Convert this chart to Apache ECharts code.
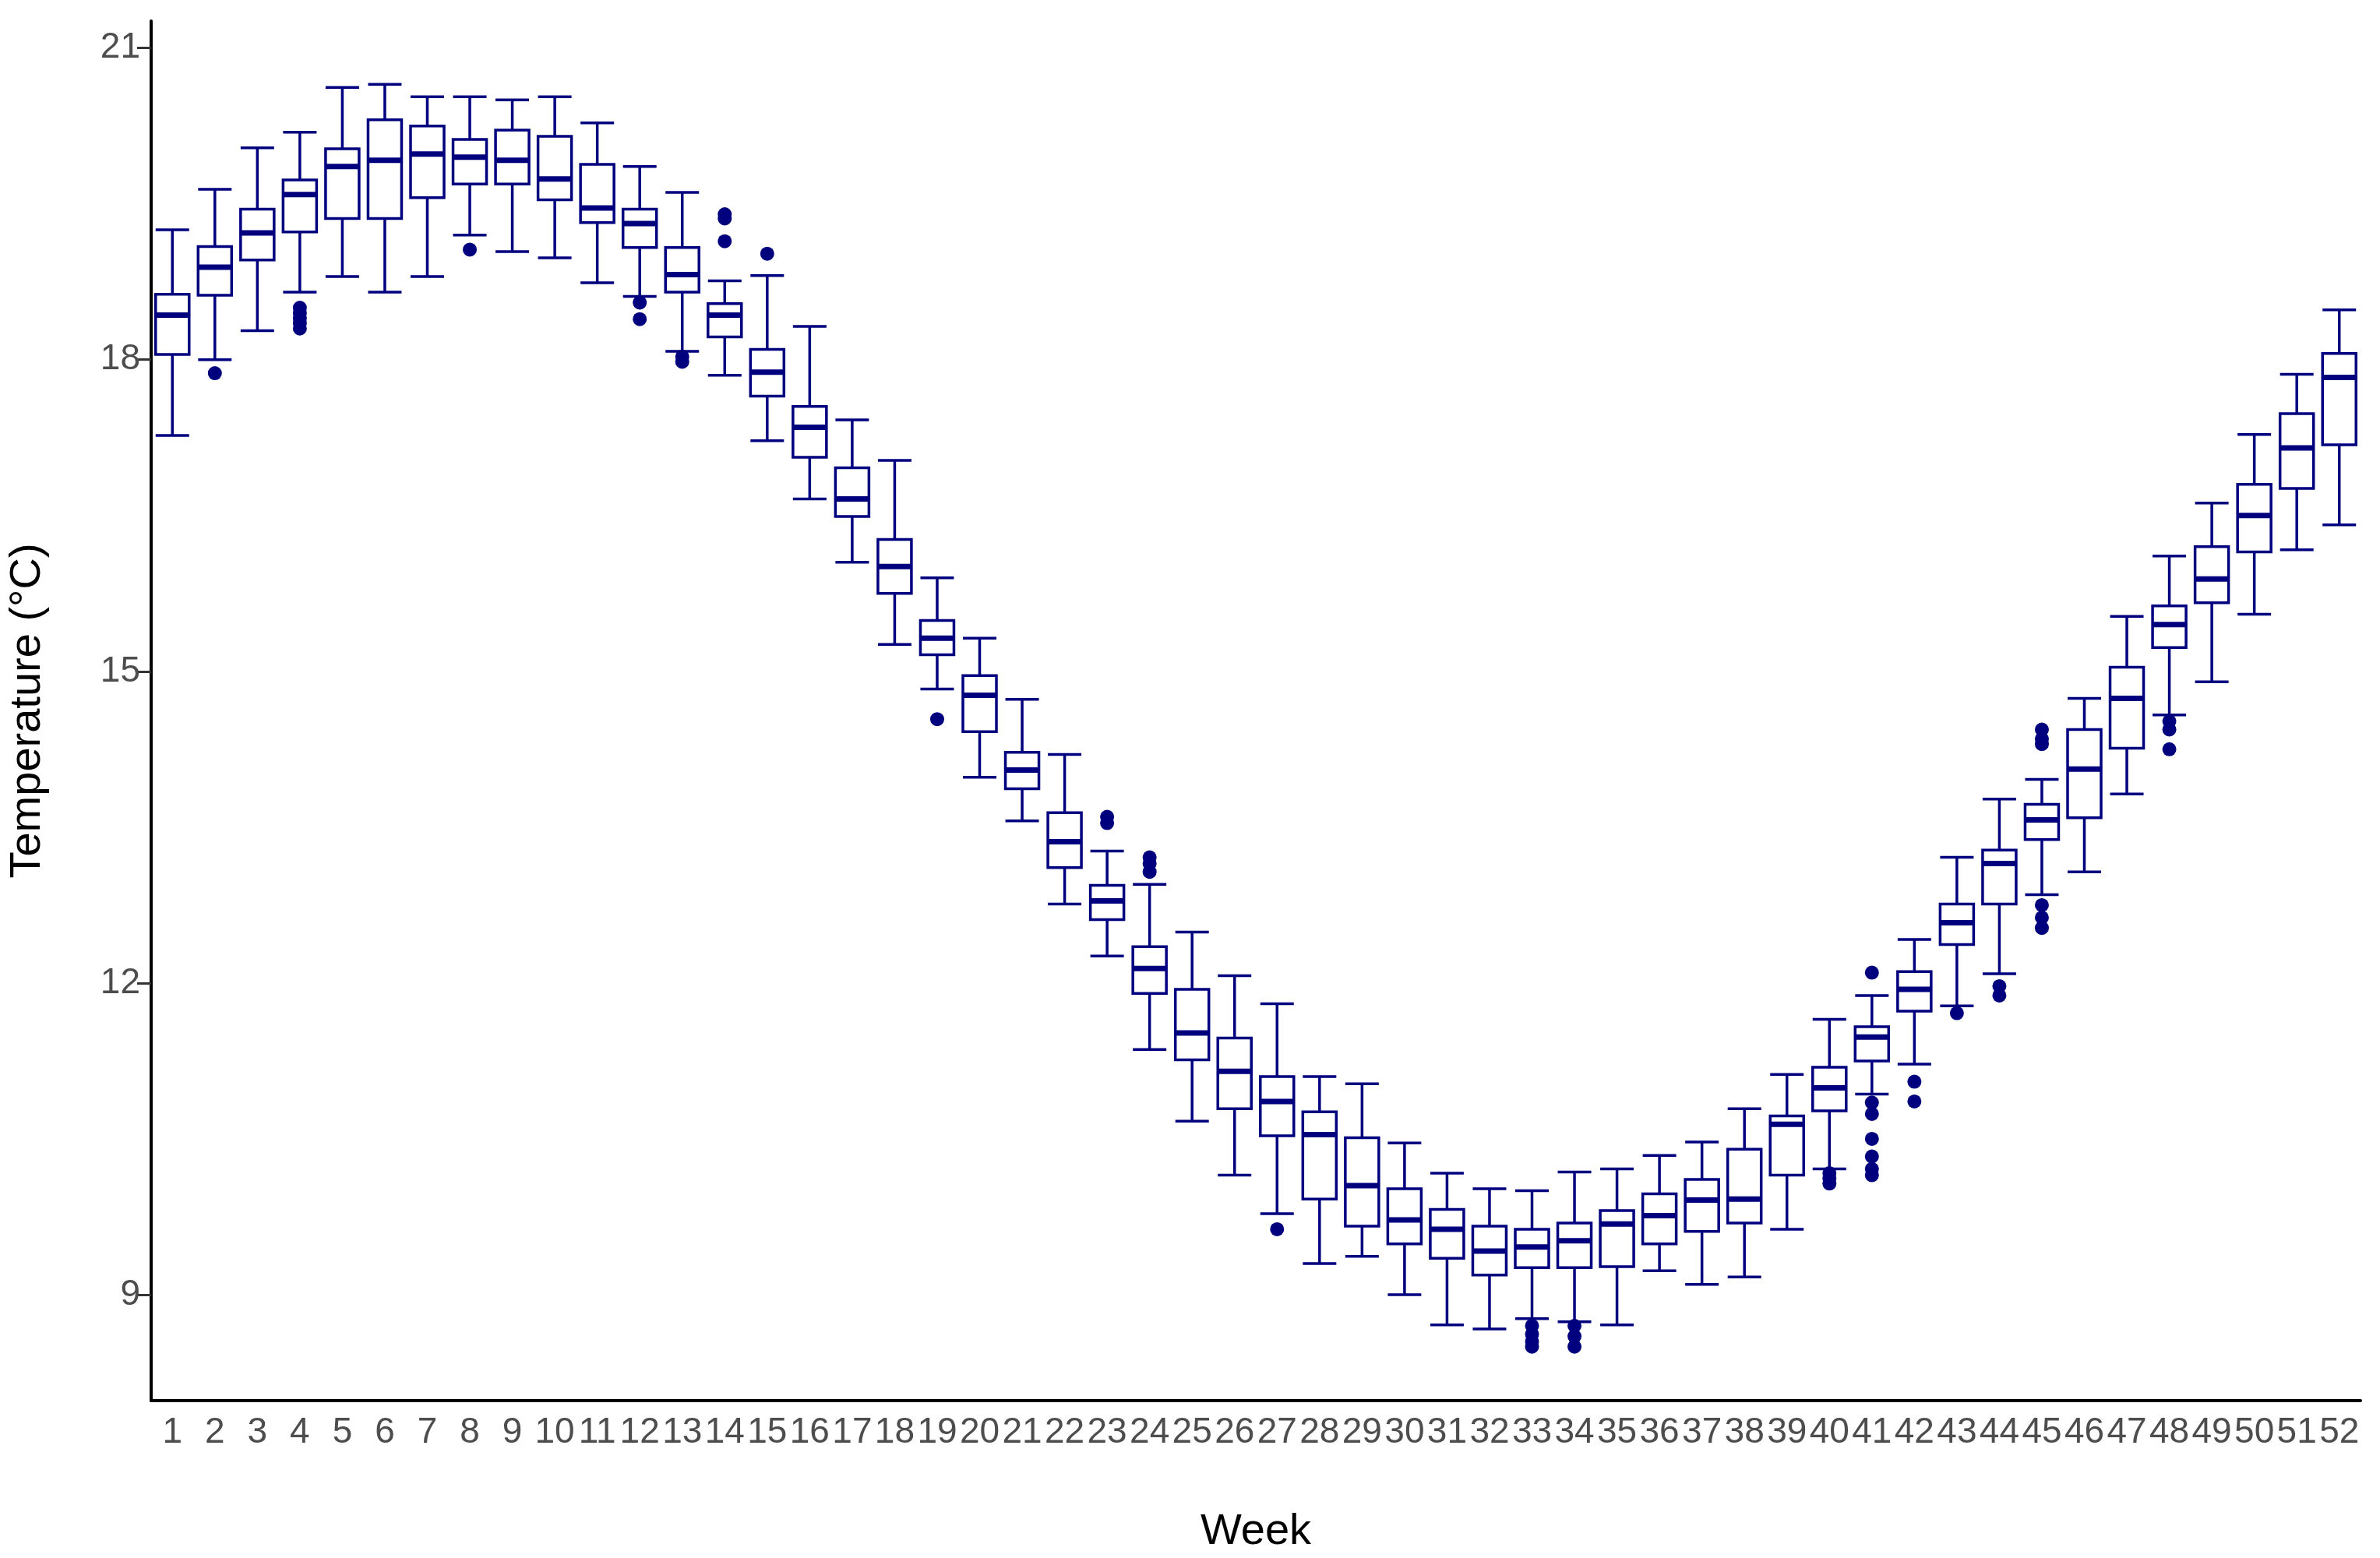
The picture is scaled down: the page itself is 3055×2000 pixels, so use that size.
<!DOCTYPE html>
<html><head><meta charset="utf-8">
<script src="https://cdn.jsdelivr.net/npm/echarts@6/dist/echarts.min.js"></script>
<style>html,body{margin:0;padding:0;background:#fff}#c{width:3055px;height:2000px}</style>
</head><body><div id="c"></div>
<script>
const weeks = Array.from({length:52},(_,i)=>String(i+1));
const yTicks = [9,12,15,18,21];
// [low whisker, Q1, median, Q3, high whisker]
const boxes = [
[17.27,18.05,18.43,18.63,19.25],[18.0,18.62,18.89,19.09,19.64],[18.28,18.96,19.22,19.45,20.04],[18.65,19.23,19.59,19.73,20.19],
[18.8,19.36,19.86,20.03,20.62],[18.65,19.36,19.92,20.31,20.65],[18.8,19.56,19.98,20.25,20.53],[19.2,19.69,19.95,20.12,20.53],
[19.04,19.69,19.92,20.21,20.5],[18.98,19.54,19.74,20.15,20.53],[18.74,19.32,19.46,19.88,20.28],[18.61,19.08,19.31,19.45,19.86],
[18.08,18.65,18.82,19.08,19.61],[17.85,18.22,18.43,18.54,18.76],[17.22,17.65,17.88,18.1,18.81],[16.66,17.06,17.35,17.55,18.32],
[16.05,16.49,16.66,16.96,17.42],[15.26,15.75,16.01,16.27,17.03],[14.83,15.16,15.32,15.49,15.9],[13.98,14.42,14.77,14.96,15.32],
[13.56,13.87,14.05,14.22,14.73],[12.76,13.11,13.36,13.64,14.2],[12.26,12.61,12.79,12.94,13.27],[11.36,11.9,12.14,12.35,12.95],
[10.67,11.26,11.52,11.94,12.49],[10.15,10.79,11.15,11.47,12.07],[9.78,10.53,10.86,11.1,11.8],[9.3,9.92,10.54,10.76,11.1],
[9.37,9.66,10.05,10.51,11.03],[9.0,9.49,9.72,10.02,10.46],[8.71,9.35,9.63,9.82,10.17],[8.67,9.19,9.42,9.66,10.02],
[8.77,9.26,9.46,9.63,10.0],[8.74,9.26,9.52,9.69,10.18],[8.71,9.27,9.68,9.81,10.21],[9.23,9.49,9.76,9.97,10.34],
[9.1,9.61,9.91,10.11,10.47],[9.17,9.69,9.92,10.4,10.79],[9.63,10.15,10.64,10.72,11.12],[10.21,10.77,10.99,11.19,11.65],
[10.93,11.25,11.48,11.58,11.88],[11.22,11.73,11.94,12.11,12.42],[11.78,12.37,12.58,12.76,13.21],[12.09,12.76,13.15,13.28,13.77],
[12.85,13.38,13.57,13.72,13.96],[13.07,13.59,14.06,14.44,14.74],[13.82,14.26,14.74,15.04,15.53],[14.58,15.23,15.45,15.63,16.11],
[14.9,15.66,15.89,16.2,16.62],[15.55,16.15,16.5,16.8,17.28],[16.17,16.76,17.15,17.48,17.86],[16.41,17.18,17.83,18.06,18.48]
];
// outliers: [week index, value]
const outliers = [
[1,17.87],[3,18.5],[3,18.45],[3,18.4],[3,18.35],[3,18.3],[7,19.06],[11,18.55],[11,18.39],[12,17.98],[12,18.03],
[13,19.4],[13,19.36],[13,19.14],[14,19.02],[18,14.54],[22,13.6],[22,13.54],[23,13.21],[23,13.15],[23,13.07],[26,9.63],
[32,8.7],[32,8.62],[32,8.55],[32,8.5],[33,8.7],[33,8.6],[33,8.5],[39,10.17],[39,10.07],[39,10.12],
[40,12.1],[40,10.85],[40,10.74],[40,10.5],[40,10.33],[40,10.21],[40,10.15],[41,11.05],[41,10.86],[42,11.71],
[43,11.97],[43,11.88],[44,14.44],[44,14.35],[44,14.3],[44,12.75],[44,12.63],[44,12.53],[47,14.52],[47,14.44],[47,14.25]
];
const C = '#00007f';
const chart = echarts.init(document.getElementById('c'));
chart.setOption({
  animation:false,
  grid:{left:185,right:25,top:27,bottom:183},
  xAxis:{type:'category',data:weeks,name:'Week',nameLocation:'middle',nameGap:141,
    nameTextStyle:{fontSize:56,color:'#000',fontFamily:'Liberation Sans'},
    axisLine:{lineStyle:{color:'#000',width:4}},
    axisTick:{alignWithLabel:true,length:14,lineStyle:{color:'#333',width:3}},
    axisLabel:{interval:0,fontSize:46,color:'#4d4d4d',margin:18,fontFamily:'Liberation Sans Narrow, Liberation Sans'},
    splitLine:{show:false}},
  yAxis:{type:'value',min:7.98,max:21.26,
    name:'Temperature (°C)',nameLocation:'middle',nameGap:130,
    nameTextStyle:{fontSize:56,color:'#000',fontFamily:'Liberation Sans'},
    axisLine:{show:true,lineStyle:{color:'#000',width:4}},
    axisTick:{show:true,length:18,lineStyle:{color:'#333',width:3},customValues:yTicks},
    axisLabel:{fontSize:46,color:'#4d4d4d',margin:14,fontFamily:'Liberation Sans',customValues:yTicks},
    splitLine:{show:false}},
  series:[
    {type:'boxplot',data:boxes,boxWidth:[43,43],
     itemStyle:{color:'#fff',borderColor:C,borderWidth:3.5}},
    {type:'custom',data:boxes.map((b,i)=>[i,b[2]]),z:5,
     renderItem:function(params,api){
       const p=api.coord([api.value(0),api.value(1)]);
       const w=api.size([1,0])[0]*0.79;
       return {type:'line',shape:{x1:p[0]-w/2,y1:p[1],x2:p[0]+w/2,y2:p[1]},style:{stroke:C,lineWidth:7}};
     }},
    {type:'scatter',data:outliers,symbolSize:18,itemStyle:{color:C,opacity:1},z:6}
  ]
});
</script></body></html>
